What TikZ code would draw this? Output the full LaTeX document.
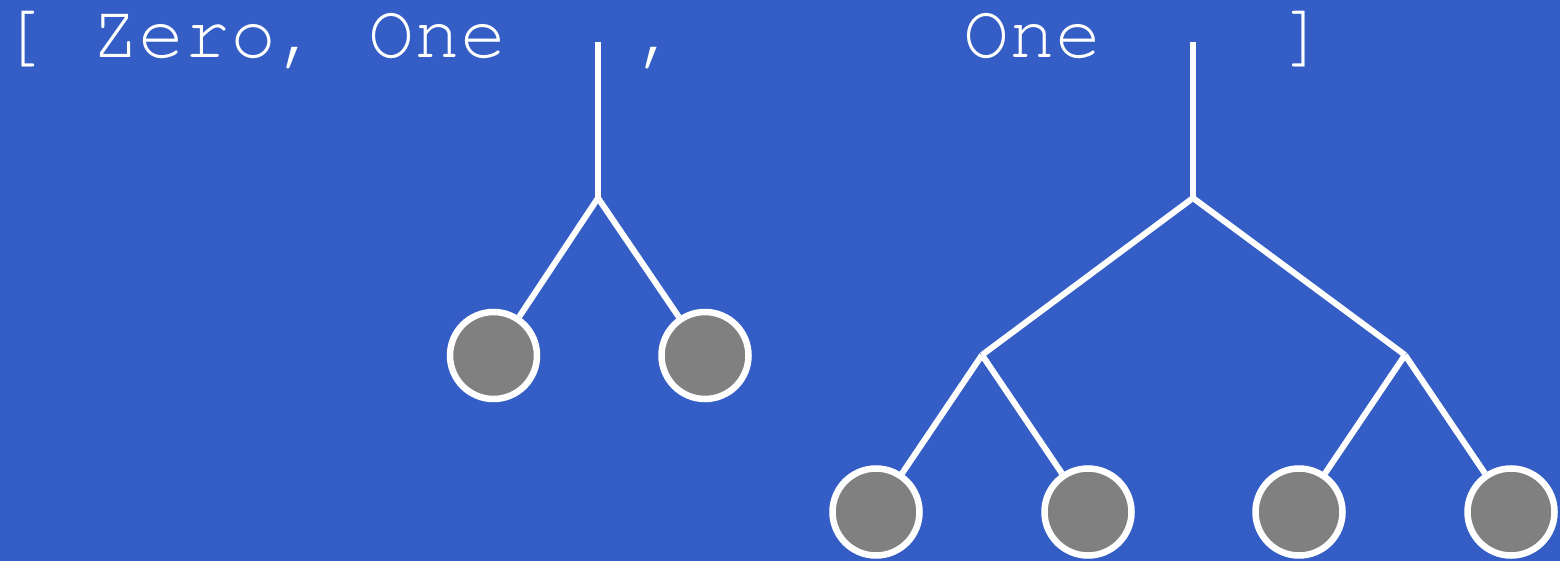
\documentclass[tikz,border=0pt]{standalone}
\usepackage{fontspec}
\newfontfamily\cursorfont{TeX Gyre Cursor}
\definecolor{bgblue}{RGB}{52,94,198}
\definecolor{leafgray}{RGB}{128,128,128}
\begin{document}
\begin{tikzpicture}[x=1pt,y=-1pt,
  lbl/.style={anchor=base west,inner sep=0pt,outer sep=0pt,text height=46pt,text depth=12pt,text=white,font=\cursorfont\fontsize{76.7}{80}\selectfont},
  leaf/.style={circle,draw=white,fill=leafgray,line width=6.5pt,minimum size=87pt,inner sep=0pt},
  edge/.style={draw=white,line width=6pt}]
\fill[bgblue] (0,0) rectangle (1560,561);
\useasboundingbox (0,0) rectangle (1560,561);
% texts
\node[lbl] (t1) at (0,57.5) {[ Zero, One};
\node[lbl] (t2) at (635.5,57.5) {,};
\node[lbl] (t3) at (963,57.5) {One};
\node[lbl] (t4) at (1280,57.5) {]};
% tree 1
\coordinate (a0) at (598,42);
\coordinate (a1) at (598,198);
\node[leaf] (l1) at (493.5,355.5) {};
\node[leaf] (l2) at (705,355.5) {};
\draw[edge] (a0) -- (a1);
\draw[edge] (a1) -- (l1);
\draw[edge] (a1) -- (l2);
% tree 2
\coordinate (b0) at (1193,42);
\coordinate (b1) at (1193,198);
\coordinate (bl) at (982,355);
\coordinate (br) at (1405,355);
\node[leaf] (m1) at (876,512) {};
\node[leaf] (m2) at (1088,512) {};
\node[leaf] (m3) at (1299,512) {};
\node[leaf] (m4) at (1511,512) {};
\draw[edge] (b0) -- (b1);
\draw[edge] (b1) -- (bl);
\draw[edge] (b1) -- (br);
\draw[edge] (bl) -- (m1);
\draw[edge] (bl) -- (m2);
\draw[edge] (br) -- (m3);
\draw[edge] (br) -- (m4);
\end{tikzpicture}
\end{document}
